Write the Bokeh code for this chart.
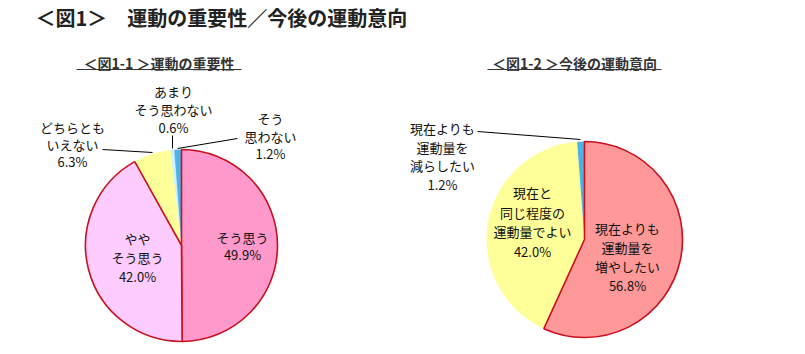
import numpy as np
from bokeh.plotting import figure
from bokeh.models import Range1d, ColumnDataSource
from bokeh.embed import file_html
from bokeh.resources import INLINE
from bokeh.core.properties import value

# ---------------- data ----------------
title = "＜図1＞　運動の重要性／今後の運動意向"
sub1 = "＜図1-1 ＞運動の重要性"
sub2 = "＜図1-2 ＞今後の運動意向"

cat1 = ["そう思う", "ややそう思う", "どちらともいえない", "あまりそう思わない", "そう思わない"]
val1 = [49.9, 42.0, 6.3, 0.6, 1.2]
lab1 = [["そう思う"], ["やや", "そう思う"], ["どちらとも", "いえない"], ["あまり", "そう思わない"], ["そう", "思わない"]]

cat2 = ["現在よりも運動量を増やしたい", "現在と同じ程度の運動量でよい", "現在よりも運動量を減らしたい"]
val2 = [56.8, 42.0, 1.2]
lab2 = [["現在よりも", "運動量を", "増やしたい"], ["現在と", "同じ程度の", "運動量でよい"], ["現在よりも", "運動量を", "減らしたい"]]

# ---------------- styles / layout ----------------
W, H = 805, 354
FONT = value("Noto Sans CJK JP")
RED = "#C8101E"
col1 = ["#FF99CC", "#FFCCFF", "#FFFF99", "#CCF2FF", "#4DB3E6"]
out1 = [True, True, False, False, False]
col2 = ["#FF9999", "#FFFF99", "#4DB3E6"]
out2 = [True, False, False]

def Y(py):
    return H - py

p = figure(width=W, height=H, x_range=Range1d(0, W), y_range=Range1d(0, H),
           x_axis_type=None, y_axis_type=None, toolbar_location=None,
           output_backend="svg", min_border=0, outline_line_color=None,
           background_fill_color="white", border_fill_color="white")
p.grid.visible = False


def pie(cx, cy, r, vals, cols, outl):
    v = np.array(vals, dtype=float)
    c = np.concatenate([[0.0], np.cumsum(v) / v.sum()])
    start = np.pi / 2 - 2 * np.pi * c[1:]
    end = np.pi / 2 - 2 * np.pi * c[:-1]
    order = [i for i in range(len(v)) if not outl[i]] + [i for i in range(len(v)) if outl[i]]
    for i in order:
        p.wedge(x=cx, y=Y(cy), radius=r, start_angle=start[i], end_angle=end[i],
                fill_color=cols[i],
                line_color=RED if outl[i] else None,
                line_width=1.6 if outl[i] else 0)


def label(x, y0, lines, dy=18.5, size="13px"):
    ys = [Y(y0 + k * dy) for k in range(len(lines))]
    p.text(x=[x] * len(lines), y=ys, text=lines, text_font=FONT, text_font_size=size,
           text_align="center", text_baseline="middle", text_color="#111111")


def pct(v):
    return f"{v:.1f}%"


# pies
pie(181, 245, 96, val1, col1, out1)
pie(584, 239, 98, val2, col2, out2)

# leader lines
p.segment(x0=[102, 172, 237, 477], y0=[Y(149), Y(135), Y(138), Y(131)],
          x1=[152, 172, 177, 580], y1=[Y(152), Y(148), Y(148), Y(139)],
          line_color="black", line_width=1)

# pie 1 labels
label(242, 237, lab1[0] + [pct(val1[0])], dy=17)
label(137, 238, lab1[1] + [pct(val1[1])], dy=19)
label(72, 127, lab1[2] + [pct(val1[2])], dy=17)
label(173, 91, lab1[3] + [pct(val1[3])], dy=18)
label(270, 118, lab1[4] + [pct(val1[4])], dy=17.5)

# pie 2 labels
label(627, 228, lab2[0] + [pct(val2[0])], dy=19)
label(532, 192, lab2[1] + [pct(val2[1])], dy=19.5)
label(442, 128, lab2[2] + [pct(val2[2])], dy=18.7)

# titles
p.text(x=[35], y=[Y(17)], text=[title], text_font=FONT, text_font_size="20px",
       text_font_style="bold", text_align="left", text_baseline="middle", text_color="#222222")
p.text(x=[158.5, 574], y=[Y(62), Y(62)], text=[sub1, sub2], text_font=FONT, text_font_size="14px",
       text_font_style="bold", text_align="center", text_baseline="middle", text_color="#333333")
p.segment(x0=[76, 487], y0=[Y(69), Y(69)], x1=[241, 661], y1=[Y(69), Y(69)],
          line_color="#333333", line_width=1)

open("out.html", "w").write(file_html(p, INLINE))
